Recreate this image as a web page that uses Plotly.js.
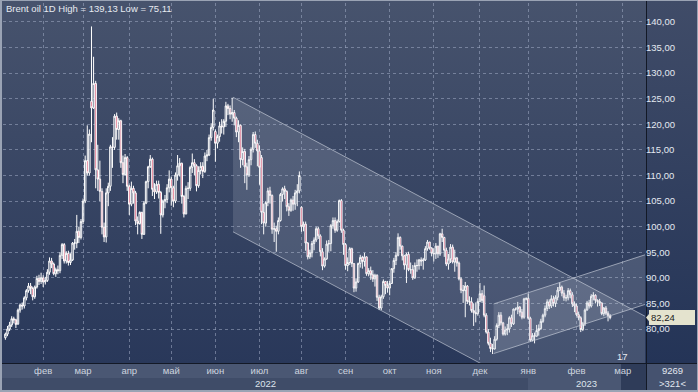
<!DOCTYPE html>
<html><head><meta charset="utf-8">
<script src="https://cdn.plot.ly/plotly-3.0.1.min.js"></script>
<style>
html,body{margin:0;padding:0;background:#3a4662;}
#wrap{position:relative;width:698px;height:392px;overflow:hidden;}
.bg{position:absolute;}
#chart{position:absolute;left:0;top:0;width:698px;height:392px;}
</style></head><body>
<div id="wrap">
 <div class="bg" style="left:0;top:0;width:646px;height:363px;background:linear-gradient(#47536d,#29385a);"></div>
 <div class="bg" style="left:647px;top:0;width:51px;height:363px;background:linear-gradient(#404c68,#243457);"></div>
 <div class="bg" style="left:0;top:364px;width:646px;height:14px;background:#4a5773;"></div>
 <div class="bg" style="left:0;top:378px;width:528px;height:12px;background:#3f4c68;"></div>
 <div class="bg" style="left:528px;top:378px;width:118px;height:12px;background:#4a5773;"></div>
 <div class="bg" style="left:621px;top:364px;width:25px;height:26px;background:#2f3c59;"></div>
 <div class="bg" style="left:647px;top:364px;width:51px;height:26px;background:#45526f;"></div>
 <div class="bg" style="left:0;top:363px;width:698px;height:1px;background:#131926;"></div>
 <div class="bg" style="left:646px;top:0;width:1px;height:390px;background:#131926;"></div>
 <div id="chart"></div>
 <div class="bg" style="left:0;top:0;width:698px;height:392px;box-sizing:border-box;border:1px solid #9aa3b4;border-left-width:2px;border-bottom-width:2px;pointer-events:none;"></div>
</div>
<script>
// ---- daily candles, Jan 2022 .. Feb 2023 (one entry per trading bar) ----
const opens = [
 78.3,79.0,80.0,80.8,82.0,81.8,81.0,83.7,84.7,84.5,86.1,87.5,88.4,87.9,86.3,88.2,89.9,89.3,
 90.0,89.2,89.5,91.1,93.3,92.7,90.8,91.6,91.4,94.4,96.5,93.3,94.8,93.0,93.5,96.8,96.8,99.1,97.9,
 101.0,105.0,112.9,110.5,124.5,123.2,128.0,111.1,109.3,106.9,99.9,98.0,106.6,107.9,115.6,115.5,121.6,119.0,120.7,112.5,110.2,113.5,
 107.9,104.4,107.5,106.6,101.1,100.6,102.8,98.5,104.6,108.8,111.7,113.2,107.3,106.8,108.3,106.7,102.3,105.0,105.3,107.6,
 109.3,107.6,105.0,110.1,111.9,112.4,105.9,102.5,107.5,107.5,111.6,112.5,111.9,108.0,111.0,111.8,110.8,113.8,114.0,117.4,119.4,
 118.6,116.3,117.6,119.7,119.5,120.6,123.6,123.1,122.0,122.3,121.2,118.5,119.8,113.1,114.7,111.7,110.1,113.1,115.1,118.0,116.3,
 114.8,113.5,102.8,100.7,104.7,107.0,106.1,99.5,99.6,99.1,101.2,106.3,107.4,106.9,103.9,103.2,105.2,104.4,106.6,107.0,
 103.8,100.0,100.5,96.8,94.1,94.9,96.7,97.4,99.6,98.2,95.1,92.3,93.7,96.6,96.7,100.2,101.2,99.3,101.0,105.1,99.3,
 96.5,92.4,93.0,95.7,92.8,88.0,89.2,92.8,94.0,93.2,94.1,90.8,91.4,90.6,89.8,90.5,86.2,84.1,86.3,89.3,88.5,
 88.0,88.9,91.8,93.4,94.4,97.9,96.2,94.3,92.5,94.6,91.6,91.6,90.0,92.4,92.4,93.5,93.3,93.5,95.7,97.0,95.8,
 94.8,94.7,96.2,94.7,98.6,97.9,95.4,92.7,93.7,96.0,93.1,93.9,92.9,89.8,87.6,87.5,88.4,85.4,85.3,83.6,83.2,83.0,
 85.4,86.9,86.5,82.7,79.4,77.2,76.2,76.1,78.0,80.7,82.7,81.2,79.0,79.8,80.0,82.2,81.0,83.9,83.9,84.3,83.3,82.3,85.9,
 86.0,82.1,77.8,78.7,78.6,79.7,80.1,81.5,82.7,84.0,85.3,84.5,85.9,85.0,86.2,87.6,88.2,87.0,86.1,86.1,87.5,86.7,84.9,
 84.5,82.8,82.2,79.9,81.0,83.7,85.1,84.5,86.4,86.6,85.6,85.4,85.1,83.0,84.1,83.1,82.6
];
const highs = [
 79.3,80.6,81.4,82.5,82.4,82.0,84.0,85.0,85.2,86.4,87.8,89.0,89.0,88.3,88.5,90.4,90.6,91.0,
 90.5,90.2,91.7,94.0,93.9,93.0,92.0,92.4,95.0,96.8,96.8,95.2,95.3,94.8,97.0,97.6,102.3,100.0,101.5,
 105.5,113.9,119.8,119.0,139.13,133.2,128.5,116.0,112.9,107.5,100.8,107.5,108.6,116.0,117.5,122.0,122.3,121.2,120.9,113.9,114.2,113.8,
 108.2,108.8,108.0,107.0,102.0,103.0,102.9,105.0,109.0,111.9,114.0,113.5,108.5,109.0,109.0,107.0,105.3,106.2,108.3,111.0,
 109.8,108.0,110.6,114.0,113.4,112.5,106.2,108.0,108.7,111.9,114.3,113.2,112.2,111.8,112.6,112.6,114.5,115.0,118.0,120.2,125.0,
 119.0,118.0,120.5,121.0,121.0,124.4,124.0,123.7,125.2,122.8,121.5,120.8,120.0,115.5,115.2,112.5,113.8,115.5,118.5,118.6,117.0,
 115.9,114.0,104.5,105.0,107.6,107.8,106.3,100.8,100.2,101.8,106.6,107.7,108.0,107.1,104.6,105.5,106.0,107.2,108.3,110.8,
 104.0,101.0,101.0,97.0,95.5,97.2,97.9,100.0,100.0,98.5,95.8,94.0,97.3,97.4,100.5,101.8,101.8,101.4,105.3,105.4,99.6,
 96.8,94.0,96.0,95.9,92.8,89.9,93.0,94.5,94.3,94.9,94.2,91.9,92.2,91.5,90.8,90.7,86.7,86.7,89.7,89.4,89.4,
 89.4,91.9,93.9,95.0,98.7,98.1,96.3,94.5,94.9,95.1,93.0,92.5,93.0,93.6,93.7,94.0,93.9,96.2,97.4,97.0,96.0,
 95.8,96.8,96.2,98.8,99.6,98.0,95.9,94.7,96.6,96.5,95.5,94.1,93.2,90.1,88.6,89.2,88.6,86.4,86.2,85.0,85.2,86.0,
 89.0,87.6,88.5,83.1,80.0,78.3,77.1,78.6,81.1,83.3,83.3,81.4,80.5,81.0,82.5,82.8,84.0,84.2,85.3,84.5,83.9,86.1,86.2,
 86.9,82.4,79.2,79.3,80.8,80.9,82.0,83.0,84.6,85.8,85.8,86.6,86.5,86.6,88.2,89.1,88.5,87.6,86.7,88.0,87.9,87.2,85.4,
 85.0,83.4,82.5,81.4,84.0,85.5,85.7,86.8,87.2,86.8,85.8,85.9,85.2,84.3,84.5,83.5,82.9
];
const lows = [
 77.9,78.6,79.6,80.4,81.1,80.2,80.8,83.2,83.8,84.0,85.6,87.1,86.8,85.6,85.9,87.9,88.6,88.8,
 88.2,88.7,89.2,90.6,91.9,90.5,90.2,90.7,90.9,93.7,92.8,92.8,92.4,92.5,93.3,95.5,95.8,96.8,97.5,
 100.5,104.6,110.0,110.0,116.5,123.0,107.5,107.0,105.0,98.5,97.0,96.9,104.0,107.0,111.5,115.0,117.0,117.0,111.5,108.5,110.0,107.0,
 102.3,104.0,104.5,100.3,98.5,100.4,97.6,98.4,104.4,107.5,111.5,106.0,105.4,106.4,105.5,98.6,101.8,103.6,104.6,106.7,
 104.1,103.8,104.6,109.0,109.8,104.5,101.8,102.4,105.4,107.0,110.5,110.0,106.9,107.6,110.2,109.5,110.5,112.8,113.8,116.8,118.8,
 112.7,115.3,116.6,118.2,118.0,119.5,121.8,121.0,120.5,119.8,117.5,116.5,111.5,112.0,108.5,107.2,109.7,112.0,114.5,115.4,111.8,
 108.2,100.5,98.5,100.0,104.0,104.5,98.6,97.0,95.1,98.5,101.0,104.9,105.4,103.0,102.1,102.9,103.1,103.3,104.0,106.5,
 99.0,99.1,95.3,93.6,93.7,94.0,95.4,97.0,97.6,94.2,91.5,92.0,93.5,95.1,95.2,99.6,98.8,99.0,100.8,98.8,94.5,
 91.6,91.3,92.5,92.1,87.2,87.3,89.0,92.0,91.8,92.2,90.4,90.3,89.6,89.2,88.3,85.5,83.7,83.7,85.9,86.8,87.1,
 86.6,88.8,91.0,92.5,94.2,95.5,93.4,91.6,89.0,91.3,90.8,89.6,89.8,91.2,91.6,92.3,91.6,93.3,95.3,95.5,94.2,
 93.2,93.7,93.9,94.3,97.0,94.1,92.3,91.6,92.9,92.8,91.2,92.2,89.5,87.0,85.1,82.3,84.9,84.6,83.2,80.6,81.3,82.6,
 85.2,85.1,82.3,79.1,76.8,75.5,75.11,76.0,77.7,80.2,80.7,78.7,78.7,78.8,79.3,80.4,80.8,83.6,82.9,82.5,81.9,82.0,85.6,
 81.8,77.5,77.6,77.2,78.5,78.7,79.8,81.2,82.3,83.5,83.9,84.1,84.4,84.3,85.6,87.4,86.4,85.5,85.4,85.6,86.0,84.3,83.3,
 82.5,81.7,79.4,79.6,80.6,83.6,84.0,84.2,85.6,85.0,84.4,84.5,82.7,82.5,82.7,81.5,81.9
];
const closes = [
 79.0,80.0,80.8,82.0,81.8,80.9,83.7,84.7,84.5,86.1,87.5,88.4,87.9,86.3,88.2,89.9,89.3,90.0,
 89.2,89.5,91.1,93.3,92.7,90.8,91.6,91.4,94.4,96.5,93.3,94.8,93.0,93.5,96.8,96.8,99.1,97.9,101.0,
 105.0,112.9,110.5,118.1,123.2,128.0,111.1,109.3,106.9,99.9,98.0,106.6,107.9,115.6,115.5,121.6,119.0,120.7,112.5,110.2,113.5,107.9,
 104.4,107.5,106.6,101.1,100.6,102.8,98.5,104.6,108.8,111.7,113.2,107.3,106.8,108.3,106.7,102.3,105.0,105.3,107.6,109.3,
 107.6,105.0,110.1,111.9,112.4,105.9,102.5,107.5,107.5,111.6,112.5,111.9,108.0,111.0,111.8,110.8,113.8,114.0,117.4,119.4,122.8,
 116.3,117.6,119.7,119.5,120.6,123.6,123.1,122.0,122.3,121.2,118.5,119.8,113.1,114.7,111.7,110.1,113.1,115.1,118.0,116.3,114.8,
 111.6,102.8,100.7,104.7,107.0,106.1,99.5,99.6,99.1,101.2,106.3,107.4,106.9,103.9,103.2,105.2,104.4,106.6,107.0,110.0,
 100.0,100.5,96.8,94.1,94.9,96.7,97.4,99.6,98.2,95.1,92.3,93.7,96.6,96.7,100.2,101.2,99.3,101.0,105.1,99.3,96.5,
 92.4,93.0,95.7,92.8,88.0,89.2,92.8,94.0,93.2,94.1,90.8,91.4,90.6,89.8,90.5,86.2,84.1,86.3,89.3,88.5,88.0,
 88.9,91.8,93.4,94.4,97.9,96.2,94.3,92.5,94.6,91.6,91.6,90.0,92.4,92.4,93.5,93.3,93.5,95.7,97.0,95.8,94.8,
 94.7,96.2,94.7,98.6,97.9,95.4,92.7,93.7,96.0,93.1,93.9,92.9,89.8,87.6,87.5,88.4,85.4,85.3,83.6,83.2,83.0,85.4,
 86.9,85.6,82.7,79.4,77.2,76.2,76.1,78.0,80.7,82.7,81.2,79.0,79.8,80.0,82.2,81.0,83.9,83.9,84.3,83.3,82.3,85.9,85.9,
 82.1,77.8,78.7,78.6,79.7,80.1,81.5,82.7,84.0,85.3,84.5,85.9,85.0,86.2,87.6,88.2,87.0,86.1,86.1,87.5,86.7,84.9,84.5,
 82.8,82.2,79.9,81.0,83.7,85.1,84.5,86.4,86.6,85.6,85.4,85.1,83.0,84.1,83.1,82.6,82.24
];

// month ticks: bar index where each month begins, and the labels
const monthTickIdx = [18, 37, 59, 79, 100, 121, 141, 162, 183, 204, 226, 249, 272, 294];
const monthLabels  = ['фев','мар','апр','май','июн','июл','авг','сен','окт','ноя','дек','янв','фев','мар'];
const yearLabels   = ['2022', '2023'];
const yearStartIdx = [-1.14, 249];
const yTickVals    = [80, 85, 90, 95, 100, 105, 110, 115, 120, 125, 130, 135, 140];

// trend channels (bar index, price)
const bigChannelX      = [108.4, 304.6];
const bigChannelTop    = [125.3, 82.5];
const bigChannelBottom = [99.0, 56.2];
const smallChannelX      = [232.5, 304.6];
const smallChannelTop    = [84.9, 94.5];
const smallChannelBottom = [75.2, 84.8];

const X_MIN = -1.14, X_MAX = 304.6, Y_MIN = 73.36, Y_MAX = 143.71;

const xIdx = closes.map((_, i) => i);
const fmt = v => v.toFixed(2).replace('.', ',');

function channelTraces(xs, top, bot) {
  return [
    {type:'scatter', mode:'lines', x:[xs[0], xs[1], xs[1], xs[0], xs[0]], y:[top[0], top[1], bot[1], bot[0], top[0]],
     fill:'toself', fillcolor:'rgba(205,213,228,0.17)', line:{width:0}, hoverinfo:'skip'},
    {type:'scatter', mode:'lines', x:xs, y:top, line:{color:'rgba(200,206,218,0.65)', width:1}, hoverinfo:'skip'},
    {type:'scatter', mode:'lines', x:xs, y:bot, line:{color:'rgba(200,206,218,0.65)', width:1}, hoverinfo:'skip'}
  ];
}

const traces = [
  ...channelTraces(bigChannelX, bigChannelTop, bigChannelBottom),
  ...channelTraces(smallChannelX, smallChannelTop, smallChannelBottom),
  {type:'candlestick', x:xIdx, open:opens, high:highs, low:lows, close:closes,
   whiskerwidth:0, hoverinfo:'skip',
   increasing:{line:{color:'#ffffff', width:1}, fillcolor:'rgba(0,0,0,0)'},
   decreasing:{line:{color:'#ffffff', width:1}, fillcolor:'#d42a50'}}
];

const lastClose = closes[closes.length - 1];
const hi = Math.max(...highs), lo = Math.min(...lows);
const gridStyle = {showgrid:true, gridcolor:'rgba(160,172,196,0.55)', griddash:'3px,3px', gridwidth:1, zeroline:false};

const annotations = [
  {xref:'paper', yref:'paper', x:0.0016, y:0.985, xanchor:'left', yanchor:'middle', showarrow:false,
   text:'Brent oil 1D High = ' + fmt(hi) + ' Low = ' + fmt(lo), font:{size:9.5, color:'#e6eaf1'}},
  {xref:'paper', yref:'y', x:1.0062, y:lastClose, xanchor:'left', yanchor:'middle', showarrow:false,
   text:fmt(lastClose), bgcolor:'#e4e3ce', bordercolor:'#e4e3ce', borderpad:1, width:42, align:'left',
   font:{size:9.5, color:'#1b1b1b'}},
  {xref:'paper', yref:'paper', x:1.0421, y:-0.0222, xanchor:'center', yanchor:'middle', showarrow:false, text:'9269', font:{size:9.5, color:'#e2e7ef'}},
  {xref:'paper', yref:'paper', x:1.0421, y:-0.0583, xanchor:'center', yanchor:'middle', showarrow:false, text:'&gt;321&lt;', font:{size:9.5, color:'#e2e7ef'}},
  {xref:'paper', yref:'paper', x:0.9642, y:0.0167, xanchor:'center', yanchor:'middle', showarrow:false, text:'17', font:{size:9.5, color:'#e8ecf2'}}
];
yearLabels.forEach((t, k) => {
  const a = yearStartIdx[k], b = (k + 1 < yearStartIdx.length) ? yearStartIdx[k + 1] : X_MAX;
  annotations.push({xref:'x', yref:'paper', x:(a + b) / 2, y:-0.0556, xanchor:'center', yanchor:'middle', showarrow:false, text:t,
                    font:{size:9.5, color:'#dde3ec'}});
});

const layout = {
  width:698, height:392,
  margin:{l:3, r:53, t:3, b:29, pad:0},
  paper_bgcolor:'rgba(0,0,0,0)', plot_bgcolor:'rgba(0,0,0,0)',
  separators:', ',
  font:{family:'Liberation Sans, Arial, sans-serif', size:9.5, color:'#dde3ec'},
  showlegend:false,
  boxgap:0.02,
  xaxis:Object.assign({range:[X_MIN, X_MAX], rangeslider:{visible:false}, tickmode:'array',
    tickvals:monthTickIdx, ticktext:monthLabels, ticks:'', showline:false,
    tickfont:{size:9.5, color:'#cdd4df'}, fixedrange:true}, gridStyle),
  yaxis:Object.assign({side:'right', range:[Y_MIN, Y_MAX], tickmode:'array', tickvals:yTickVals,
    tickformat:'.2f', ticks:'', showline:false, tickfont:{size:9.5, color:'#e4e9f1'}, fixedrange:true}, gridStyle),
  annotations:annotations,
  shapes:[{type:'path', xref:'paper', yref:'y', layer:'above',
    path:'M 1.0016 ' + lastClose + ' L 1.0075 ' + (lastClose + 0.9) + ' L 1.0075 ' + (lastClose - 0.9) + ' Z',
    fillcolor:'#e4e3ce', line:{width:0}}]
};

Plotly.newPlot('chart', traces, layout, {displayModeBar:false, staticPlot:true});
</script>
</body></html>
